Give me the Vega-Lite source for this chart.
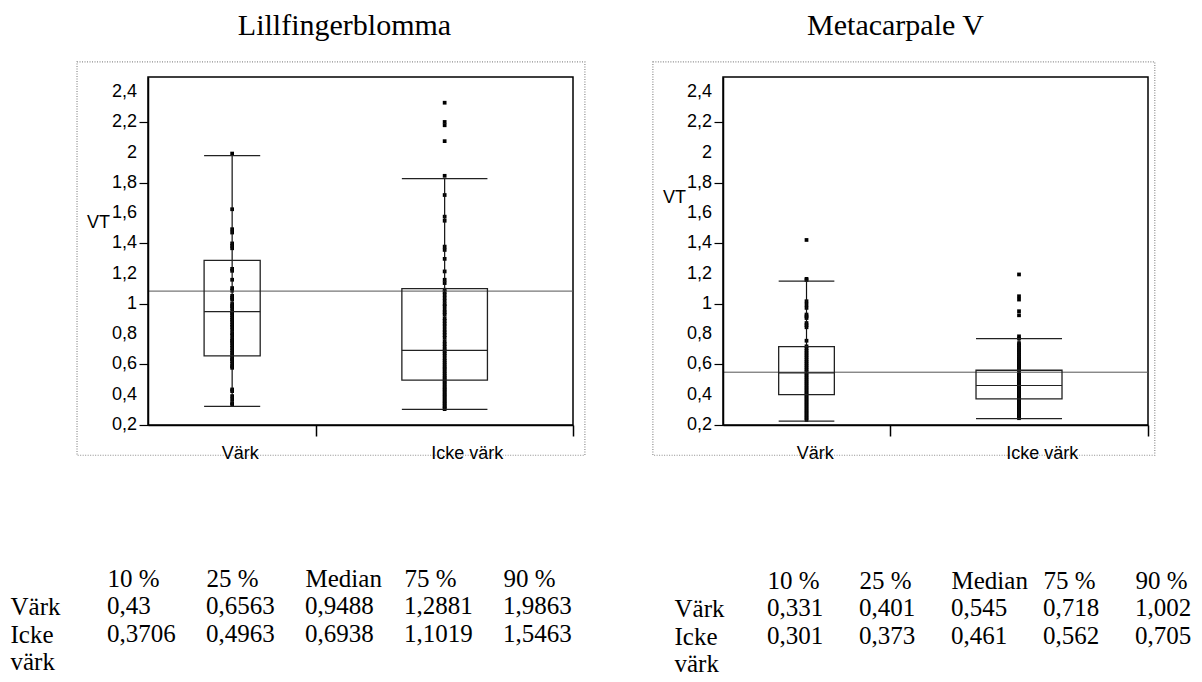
{
  "$schema": "https://vega.github.io/schema/vega-lite/v6.json",
  "background": "white",
  "padding": {"left": 10, "top": 10, "right": 0, "bottom": 0},
  "config": {
    "view": {"stroke": null},
    "font": "Liberation Sans",
    "axis": {"labelOverlap": false, "grid": false},
    "locale": {"number": {"decimal": ",", "thousands": "\u00a0", "grouping": [3], "currency": ["", "\u00a0kr"]}}
  },
  "datasets": {
    "y_etiketter": [
      {"vt": 0.2}, {"vt": 0.4}, {"vt": 0.6}, {"vt": 0.8}, {"vt": 1.0}, {"vt": 1.2},
      {"vt": 1.4}, {"vt": 1.6}, {"vt": 1.8}, {"vt": 2.0}, {"vt": 2.2}, {"vt": 2.4}
    ],
    "lf_grupper": [
      {"grupp": "Värk", "andel_fran": 0, "andel_till": 0.396, "lo": 0.323, "q1": 0.6563, "med": 0.9488, "q3": 1.2881, "hi": 1.981},
      {"grupp": "Icke värk", "andel_fran": 0.396, "andel_till": 1, "lo": 0.303, "q1": 0.4963, "med": 0.6938, "q3": 1.1019, "hi": 1.829}
    ],
    "mc_grupper": [
      {"grupp": "Värk", "andel_fran": 0, "andel_till": 0.393, "lo": 0.226, "q1": 0.401, "med": 0.545, "q3": 0.718, "hi": 1.151},
      {"grupp": "Icke värk", "andel_fran": 0.393, "andel_till": 1, "lo": 0.242, "q1": 0.373, "med": 0.461, "q3": 0.562, "hi": 0.771}
    ],
    "lf_ref": [{"vt": 1.085}],
    "mc_ref": [{"vt": 0.549}],
    "lf_punkter": [
      {"grupp": "Värk", "vt": 1.994}, {"grupp": "Värk", "vt": 1.626}, {"grupp": "Värk", "vt": 1.494}, {"grupp": "Värk", "vt": 1.472},
      {"grupp": "Värk", "vt": 1.4}, {"grupp": "Värk", "vt": 1.384}, {"grupp": "Värk", "vt": 1.368}, {"grupp": "Värk", "vt": 1.232},
      {"grupp": "Värk", "vt": 1.219}, {"grupp": "Värk", "vt": 1.16}, {"grupp": "Värk", "vt": 1.105}, {"grupp": "Värk", "vt": 1.088},
      {"grupp": "Värk", "vt": 1.054}, {"grupp": "Värk", "vt": 1.041}, {"grupp": "Värk", "vt": 1.028}, {"grupp": "Värk", "vt": 1.0},
      {"grupp": "Värk", "vt": 0.986}, {"grupp": "Värk", "vt": 0.973}, {"grupp": "Värk", "vt": 0.952}, {"grupp": "Värk", "vt": 0.94},
      {"grupp": "Värk", "vt": 0.926}, {"grupp": "Värk", "vt": 0.91}, {"grupp": "Värk", "vt": 0.896}, {"grupp": "Värk", "vt": 0.881},
      {"grupp": "Värk", "vt": 0.863}, {"grupp": "Värk", "vt": 0.849}, {"grupp": "Värk", "vt": 0.83}, {"grupp": "Värk", "vt": 0.808},
      {"grupp": "Värk", "vt": 0.792}, {"grupp": "Värk", "vt": 0.769}, {"grupp": "Värk", "vt": 0.756}, {"grupp": "Värk", "vt": 0.743},
      {"grupp": "Värk", "vt": 0.726}, {"grupp": "Värk", "vt": 0.71}, {"grupp": "Värk", "vt": 0.692}, {"grupp": "Värk", "vt": 0.677},
      {"grupp": "Värk", "vt": 0.661}, {"grupp": "Värk", "vt": 0.644}, {"grupp": "Värk", "vt": 0.634}, {"grupp": "Värk", "vt": 0.622},
      {"grupp": "Värk", "vt": 0.604}, {"grupp": "Värk", "vt": 0.589}, {"grupp": "Värk", "vt": 0.578}, {"grupp": "Värk", "vt": 0.435},
      {"grupp": "Värk", "vt": 0.424}, {"grupp": "Värk", "vt": 0.391}, {"grupp": "Värk", "vt": 0.369}, {"grupp": "Värk", "vt": 0.345},
      {"grupp": "Värk", "vt": 0.336},
      {"grupp": "Icke värk", "vt": 2.33}, {"grupp": "Icke värk", "vt": 2.203}, {"grupp": "Icke värk", "vt": 2.181}, {"grupp": "Icke värk", "vt": 2.076},
      {"grupp": "Icke värk", "vt": 1.847}, {"grupp": "Icke värk", "vt": 1.72}, {"grupp": "Icke värk", "vt": 1.577}, {"grupp": "Icke värk", "vt": 1.55},
      {"grupp": "Icke värk", "vt": 1.379}, {"grupp": "Icke värk", "vt": 1.357}, {"grupp": "Icke värk", "vt": 1.298}, {"grupp": "Icke värk", "vt": 1.215},
      {"grupp": "Icke värk", "vt": 1.16}, {"grupp": "Icke värk", "vt": 1.138}, {"grupp": "Icke värk", "vt": 1.094}, {"grupp": "Icke värk", "vt": 1.08},
      {"grupp": "Icke värk", "vt": 1.062}, {"grupp": "Icke värk", "vt": 1.041}, {"grupp": "Icke värk", "vt": 1.02}, {"grupp": "Icke värk", "vt": 0.998},
      {"grupp": "Icke värk", "vt": 0.985}, {"grupp": "Icke värk", "vt": 0.962}, {"grupp": "Icke värk", "vt": 0.945}, {"grupp": "Icke värk", "vt": 0.93},
      {"grupp": "Icke värk", "vt": 0.905}, {"grupp": "Icke värk", "vt": 0.888}, {"grupp": "Icke värk", "vt": 0.87}, {"grupp": "Icke värk", "vt": 0.852},
      {"grupp": "Icke värk", "vt": 0.83}, {"grupp": "Icke värk", "vt": 0.812}, {"grupp": "Icke värk", "vt": 0.794}, {"grupp": "Icke värk", "vt": 0.776},
      {"grupp": "Icke värk", "vt": 0.752}, {"grupp": "Icke värk", "vt": 0.735}, {"grupp": "Icke värk", "vt": 0.718}, {"grupp": "Icke värk", "vt": 0.7},
      {"grupp": "Icke värk", "vt": 0.688}, {"grupp": "Icke värk", "vt": 0.673}, {"grupp": "Icke värk", "vt": 0.659}, {"grupp": "Icke värk", "vt": 0.641},
      {"grupp": "Icke värk", "vt": 0.626}, {"grupp": "Icke värk", "vt": 0.612}, {"grupp": "Icke värk", "vt": 0.598}, {"grupp": "Icke värk", "vt": 0.583},
      {"grupp": "Icke värk", "vt": 0.571}, {"grupp": "Icke värk", "vt": 0.556}, {"grupp": "Icke värk", "vt": 0.542}, {"grupp": "Icke värk", "vt": 0.528},
      {"grupp": "Icke värk", "vt": 0.515}, {"grupp": "Icke värk", "vt": 0.503}, {"grupp": "Icke värk", "vt": 0.49}, {"grupp": "Icke värk", "vt": 0.478},
      {"grupp": "Icke värk", "vt": 0.466}, {"grupp": "Icke värk", "vt": 0.452}, {"grupp": "Icke värk", "vt": 0.441}, {"grupp": "Icke värk", "vt": 0.43},
      {"grupp": "Icke värk", "vt": 0.418}, {"grupp": "Icke värk", "vt": 0.405}, {"grupp": "Icke värk", "vt": 0.394}, {"grupp": "Icke värk", "vt": 0.382},
      {"grupp": "Icke värk", "vt": 0.37}, {"grupp": "Icke värk", "vt": 0.358}, {"grupp": "Icke värk", "vt": 0.347}, {"grupp": "Icke värk", "vt": 0.336},
      {"grupp": "Icke värk", "vt": 0.325}, {"grupp": "Icke värk", "vt": 0.314}, {"grupp": "Icke värk", "vt": 0.305}
    ],
    "mc_punkter": [
      {"grupp": "Värk", "vt": 1.423}, {"grupp": "Värk", "vt": 1.166}, {"grupp": "Värk", "vt": 1.158}, {"grupp": "Värk", "vt": 1.018},
      {"grupp": "Värk", "vt": 0.996}, {"grupp": "Värk", "vt": 0.974}, {"grupp": "Värk", "vt": 0.93}, {"grupp": "Värk", "vt": 0.918},
      {"grupp": "Värk", "vt": 0.907}, {"grupp": "Värk", "vt": 0.874}, {"grupp": "Värk", "vt": 0.86}, {"grupp": "Värk", "vt": 0.846},
      {"grupp": "Värk", "vt": 0.757}, {"grupp": "Värk", "vt": 0.72}, {"grupp": "Värk", "vt": 0.705}, {"grupp": "Värk", "vt": 0.69},
      {"grupp": "Värk", "vt": 0.676}, {"grupp": "Värk", "vt": 0.662}, {"grupp": "Värk", "vt": 0.648}, {"grupp": "Värk", "vt": 0.634},
      {"grupp": "Värk", "vt": 0.62}, {"grupp": "Värk", "vt": 0.607}, {"grupp": "Värk", "vt": 0.593}, {"grupp": "Värk", "vt": 0.58},
      {"grupp": "Värk", "vt": 0.566}, {"grupp": "Värk", "vt": 0.553}, {"grupp": "Värk", "vt": 0.54}, {"grupp": "Värk", "vt": 0.527},
      {"grupp": "Värk", "vt": 0.514}, {"grupp": "Värk", "vt": 0.501}, {"grupp": "Värk", "vt": 0.488}, {"grupp": "Värk", "vt": 0.476},
      {"grupp": "Värk", "vt": 0.463}, {"grupp": "Värk", "vt": 0.45}, {"grupp": "Värk", "vt": 0.438}, {"grupp": "Värk", "vt": 0.425},
      {"grupp": "Värk", "vt": 0.412}, {"grupp": "Värk", "vt": 0.4}, {"grupp": "Värk", "vt": 0.388}, {"grupp": "Värk", "vt": 0.376},
      {"grupp": "Värk", "vt": 0.364}, {"grupp": "Värk", "vt": 0.352}, {"grupp": "Värk", "vt": 0.34}, {"grupp": "Värk", "vt": 0.328},
      {"grupp": "Värk", "vt": 0.316}, {"grupp": "Värk", "vt": 0.304}, {"grupp": "Värk", "vt": 0.292}, {"grupp": "Värk", "vt": 0.28},
      {"grupp": "Värk", "vt": 0.268}, {"grupp": "Värk", "vt": 0.256}, {"grupp": "Värk", "vt": 0.245}, {"grupp": "Värk", "vt": 0.233},
      {"grupp": "Icke värk", "vt": 1.195}, {"grupp": "Icke värk", "vt": 1.051}, {"grupp": "Icke värk", "vt": 1.029}, {"grupp": "Icke värk", "vt": 0.952},
      {"grupp": "Icke värk", "vt": 0.925}, {"grupp": "Icke värk", "vt": 0.786}, {"grupp": "Icke värk", "vt": 0.771}, {"grupp": "Icke värk", "vt": 0.741},
      {"grupp": "Icke värk", "vt": 0.728}, {"grupp": "Icke värk", "vt": 0.715}, {"grupp": "Icke värk", "vt": 0.702}, {"grupp": "Icke värk", "vt": 0.69},
      {"grupp": "Icke värk", "vt": 0.678}, {"grupp": "Icke värk", "vt": 0.666}, {"grupp": "Icke värk", "vt": 0.654}, {"grupp": "Icke värk", "vt": 0.642},
      {"grupp": "Icke värk", "vt": 0.63}, {"grupp": "Icke värk", "vt": 0.618}, {"grupp": "Icke värk", "vt": 0.607}, {"grupp": "Icke värk", "vt": 0.596},
      {"grupp": "Icke värk", "vt": 0.585}, {"grupp": "Icke värk", "vt": 0.574}, {"grupp": "Icke värk", "vt": 0.563}, {"grupp": "Icke värk", "vt": 0.552},
      {"grupp": "Icke värk", "vt": 0.542}, {"grupp": "Icke värk", "vt": 0.532}, {"grupp": "Icke värk", "vt": 0.522}, {"grupp": "Icke värk", "vt": 0.512},
      {"grupp": "Icke värk", "vt": 0.502}, {"grupp": "Icke värk", "vt": 0.492}, {"grupp": "Icke värk", "vt": 0.482}, {"grupp": "Icke värk", "vt": 0.472},
      {"grupp": "Icke värk", "vt": 0.462}, {"grupp": "Icke värk", "vt": 0.452}, {"grupp": "Icke värk", "vt": 0.443}, {"grupp": "Icke värk", "vt": 0.434},
      {"grupp": "Icke värk", "vt": 0.425}, {"grupp": "Icke värk", "vt": 0.416}, {"grupp": "Icke värk", "vt": 0.407}, {"grupp": "Icke värk", "vt": 0.398},
      {"grupp": "Icke värk", "vt": 0.389}, {"grupp": "Icke värk", "vt": 0.38}, {"grupp": "Icke värk", "vt": 0.371}, {"grupp": "Icke värk", "vt": 0.362},
      {"grupp": "Icke värk", "vt": 0.353}, {"grupp": "Icke värk", "vt": 0.344}, {"grupp": "Icke värk", "vt": 0.335}, {"grupp": "Icke värk", "vt": 0.326},
      {"grupp": "Icke värk", "vt": 0.317}, {"grupp": "Icke värk", "vt": 0.308}, {"grupp": "Icke värk", "vt": 0.299}, {"grupp": "Icke värk", "vt": 0.29},
      {"grupp": "Icke värk", "vt": 0.281}, {"grupp": "Icke värk", "vt": 0.272}, {"grupp": "Icke värk", "vt": 0.263}, {"grupp": "Icke värk", "vt": 0.254},
      {"grupp": "Icke värk", "vt": 0.245}
    ],
    "lf_tabell": [
      {"grupp": "Värk", "kvantil": "10 %", "varde": 0.43},
      {"grupp": "Värk", "kvantil": "25 %", "varde": 0.6563},
      {"grupp": "Värk", "kvantil": "Median", "varde": 0.9488},
      {"grupp": "Värk", "kvantil": "75 %", "varde": 1.2881},
      {"grupp": "Värk", "kvantil": "90 %", "varde": 1.9863},
      {"grupp": "Icke värk", "kvantil": "10 %", "varde": 0.3706},
      {"grupp": "Icke värk", "kvantil": "25 %", "varde": 0.4963},
      {"grupp": "Icke värk", "kvantil": "Median", "varde": 0.6938},
      {"grupp": "Icke värk", "kvantil": "75 %", "varde": 1.1019},
      {"grupp": "Icke värk", "kvantil": "90 %", "varde": 1.5463}
    ],
    "mc_tabell": [
      {"grupp": "Värk", "kvantil": "10 %", "varde": 0.331},
      {"grupp": "Värk", "kvantil": "25 %", "varde": 0.401},
      {"grupp": "Värk", "kvantil": "Median", "varde": 0.545},
      {"grupp": "Värk", "kvantil": "75 %", "varde": 0.718},
      {"grupp": "Värk", "kvantil": "90 %", "varde": 1.002},
      {"grupp": "Icke värk", "kvantil": "10 %", "varde": 0.301},
      {"grupp": "Icke värk", "kvantil": "25 %", "varde": 0.373},
      {"grupp": "Icke värk", "kvantil": "Median", "varde": 0.461},
      {"grupp": "Icke värk", "kvantil": "75 %", "varde": 0.562},
      {"grupp": "Icke värk", "kvantil": "90 %", "varde": 0.705}
    ]
  },
  "hconcat": [
    {
      "vconcat": [
        {
          "width": 425,
          "height": 348,
          "view": {"stroke": "#000", "strokeWidth": 1.5},
          "title": {"text": "Lillfingerblomma", "font": "Liberation Serif", "fontSize": 30, "fontWeight": "normal", "color": "#000", "anchor": "middle", "frame": "group", "dx": -16, "offset": -4, "baseline": "alphabetic"},
          "layer": [
            {
              "data": {"name": "lf_punkter"},
              "transform": [
                {"lookup": "grupp", "from": {"data": {"name": "lf_grupper"}, "key": "grupp", "fields": ["andel_fran", "andel_till"]}},
                {"calculate": "(datum.andel_fran + datum.andel_till) / 2", "as": "mitt"}
              ],
              "mark": {"type": "point", "shape": "square", "filled": true, "size": 14, "color": "#000", "opacity": 1},
              "encoding": {
                "x": {"field": "mitt", "type": "quantitative", "scale": {"domain": [0, 1], "nice": false, "zero": false},
                  "axis": {"orient": "bottom", "zindex": 1, "values": [0.216, 0.396, 0.75, 1], "labelExpr": "datum.value == 0.216 ? 'Värk' : datum.value == 0.75 ? 'Icke värk' : ''",
                    "tickOpacity": {"condition": {"test": "datum.value == 0.216 || datum.value == 0.75", "value": 0}, "value": 1},
                    "tickSize": 11, "tickColor": "#000", "tickWidth": 1.5, "domainColor": "#000", "domainWidth": 1.5,
                    "labelFont": "Liberation Sans", "labelFontSize": 18, "labelColor": "#000", "labelPadding": 8, "labelFlush": false, "labelOverlap": false, "labelBound": false,
                    "grid": false, "title": null}},
                "y": {"field": "vt", "type": "quantitative", "scale": {"domain": [0.2, 2.5], "nice": false, "zero": false},
                  "axis": {"zindex": 1, "values": [0.2, 0.3, 0.4, 0.5, 0.6, 0.7, 0.8, 0.9, 1, 1.1, 1.2, 1.3, 1.4, 1.5, 1.6, 1.7, 1.8, 1.9, 2, 2.1, 2.2, 2.3, 2.4],
                    "labels": false,
                    "tickSize": {"condition": {"test": "round(datum.value*10) % 2 == 0", "value": 9}, "value": 5},
                    "tickColor": "#000", "tickWidth": 1.2, "domainColor": "#000", "domainWidth": 1.5,
                    "grid": false, "title": "VT", "titleAngle": 0, "titleX": -50, "titleY": 145, "titleAlign": "center", "titleBaseline": "middle",
                    "titleFont": "Liberation Sans", "titleFontSize": 18, "titleFontWeight": "normal", "titleColor": "#000"}}
              }
            },
            {
              "data": {"values": [{}]},
              "mark": {"type": "rect", "filled": false, "stroke": "#8c8c8c", "strokeWidth": 1.2, "strokeDash": [1, 1.5]},
              "encoding": {
                "x": {"datum": -0.167, "type": "quantitative"},
                "x2": {"datum": 1.028},
                "y": {"datum": 2.6, "type": "quantitative"},
                "y2": {"datum": 0.0}
              }
            },
            {
              "data": {"name": "y_etiketter"},
              "mark": {"type": "text", "align": "right", "baseline": "middle", "dx": -11, "font": "Liberation Sans", "fontSize": 18, "color": "#000"},
              "encoding": {
                "x": {"datum": 0, "type": "quantitative"},
                "y": {"field": "vt", "type": "quantitative"},
                "text": {"field": "vt", "type": "quantitative", "format": ".1~f"}
              }
            },
            {
              "data": {"name": "lf_ref"},
              "mark": {"type": "rule", "color": "#555", "strokeWidth": 1},
              "encoding": {"y": {"field": "vt", "type": "quantitative"}}
            },
            {
              "data": {"name": "lf_grupper"},
              "transform": [
                {"calculate": "(datum.andel_fran + datum.andel_till) / 2", "as": "mitt"},
                {"calculate": "datum.andel_fran + (datum.andel_till - datum.andel_fran) / 3", "as": "b0"},
                {"calculate": "datum.andel_fran + 2 * (datum.andel_till - datum.andel_fran) / 3", "as": "b1"}
              ],
              "layer": [
                {
                  "mark": {"type": "rule", "color": "#111", "strokeWidth": 1.2},
                  "encoding": {
                    "x": {"field": "mitt", "type": "quantitative"},
                    "y": {"field": "lo", "type": "quantitative"},
                    "y2": {"field": "hi"}
                  }
                },
                {
                  "mark": {"type": "rect", "filled": false, "stroke": "#222", "strokeWidth": 1.3},
                  "encoding": {
                    "x": {"field": "b0", "type": "quantitative"},
                    "x2": {"field": "b1"},
                    "y": {"field": "q1", "type": "quantitative"},
                    "y2": {"field": "q3"}
                  }
                },
                {
                  "mark": {"type": "rule", "color": "#222", "strokeWidth": 1.2},
                  "encoding": {
                    "x": {"field": "b0", "type": "quantitative"},
                    "x2": {"field": "b1"},
                    "y": {"field": "med", "type": "quantitative"}
                  }
                },
                {
                  "mark": {"type": "rule", "color": "#222", "strokeWidth": 1.3},
                  "encoding": {
                    "x": {"field": "b0", "type": "quantitative"},
                    "x2": {"field": "b1"},
                    "y": {"field": "lo", "type": "quantitative"}
                  }
                },
                {
                  "mark": {"type": "rule", "color": "#222", "strokeWidth": 1.3},
                  "encoding": {
                    "x": {"field": "b0", "type": "quantitative"},
                    "x2": {"field": "b1"},
                    "y": {"field": "hi", "type": "quantitative"}
                  }
                }
              ]
            }
          ]
        },
        {
          "width": 507,
          "height": 28,
          "data": {"name": "lf_tabell"},
          "mark": {"type": "text", "align": "left", "baseline": "alphabetic", "font": "Liberation Serif", "fontSize": 25, "color": "#000"},
          "encoding": {
            "x": {"field": "kvantil", "type": "ordinal", "sort": ["10 %", "25 %", "Median", "75 %", "90 %"], "scale": {"type": "point", "padding": 0.56, "align": 0},
              "axis": {"orient": "top", "title": null, "domain": false, "ticks": false, "labelAngle": 0, "labelAlign": "left", "labelBaseline": "alphabetic", "labelPadding": 28,
                "labelFont": "Liberation Serif", "labelFontSize": 25, "labelColor": "#000", "labelOverlap": false, "labelBound": false, "labelFlush": false}},
            "y": {"field": "grupp", "type": "nominal", "sort": ["Värk", "Icke värk"], "scale": {"type": "point", "padding": 0},
              "axis": {"title": null, "domain": false, "ticks": false, "labelAlign": "left", "labelBaseline": "alphabetic", "labelPadding": 97,
                "labelFont": "Liberation Serif", "labelFontSize": 25, "labelColor": "#000", "labelLineHeight": 27, "labelOverlap": false, "labelBound": false, "labelFlush": false,
                "labelExpr": "datum.value == 'Icke värk' ? ['Icke', 'värk'] : datum.value"}},
            "text": {"field": "varde", "type": "quantitative", "format": ".4~f"}
          }
        }
      ],
      "bounds": "flush",
      "center": true,
      "spacing": 189
    },
    {
      "vconcat": [
        {
          "width": 425,
          "height": 348,
          "view": {"stroke": "#000", "strokeWidth": 1.5},
          "title": {"text": "Metacarpale V", "font": "Liberation Serif", "fontSize": 30, "fontWeight": "normal", "color": "#000", "anchor": "middle", "frame": "group", "dx": -40, "offset": -4, "baseline": "alphabetic"},
          "layer": [
            {
              "data": {"name": "mc_punkter"},
              "transform": [
                {"lookup": "grupp", "from": {"data": {"name": "mc_grupper"}, "key": "grupp", "fields": ["andel_fran", "andel_till"]}},
                {"calculate": "(datum.andel_fran + datum.andel_till) / 2", "as": "mitt"}
              ],
              "mark": {"type": "point", "shape": "square", "filled": true, "size": 14, "color": "#000", "opacity": 1},
              "encoding": {
                "x": {"field": "mitt", "type": "quantitative", "scale": {"domain": [0, 1], "nice": false, "zero": false},
                  "axis": {"orient": "bottom", "zindex": 1, "values": [0.216, 0.393, 0.75, 1], "labelExpr": "datum.value == 0.216 ? 'Värk' : datum.value == 0.75 ? 'Icke värk' : ''",
                    "tickOpacity": {"condition": {"test": "datum.value == 0.216 || datum.value == 0.75", "value": 0}, "value": 1},
                    "tickSize": 11, "tickColor": "#000", "tickWidth": 1.5, "domainColor": "#000", "domainWidth": 1.5,
                    "labelFont": "Liberation Sans", "labelFontSize": 18, "labelColor": "#000", "labelPadding": 8, "labelFlush": false, "labelOverlap": false, "labelBound": false,
                    "grid": false, "title": null}},
                "y": {"field": "vt", "type": "quantitative", "scale": {"domain": [0.2, 2.5], "nice": false, "zero": false},
                  "axis": {"zindex": 1, "values": [0.2, 0.3, 0.4, 0.5, 0.6, 0.7, 0.8, 0.9, 1, 1.1, 1.2, 1.3, 1.4, 1.5, 1.6, 1.7, 1.8, 1.9, 2, 2.1, 2.2, 2.3, 2.4],
                    "labels": false,
                    "tickSize": {"condition": {"test": "round(datum.value*10) % 2 == 0", "value": 9}, "value": 5},
                    "tickColor": "#000", "tickWidth": 1.2, "domainColor": "#000", "domainWidth": 1.5,
                    "grid": false, "title": "VT", "titleAngle": 0, "titleX": -49, "titleY": 120, "titleAlign": "center", "titleBaseline": "middle",
                    "titleFont": "Liberation Sans", "titleFontSize": 18, "titleFontWeight": "normal", "titleColor": "#000"}}
              }
            },
            {
              "data": {"values": [{}]},
              "mark": {"type": "rect", "filled": false, "stroke": "#8c8c8c", "strokeWidth": 1.2, "strokeDash": [1, 1.5]},
              "encoding": {
                "x": {"datum": -0.165, "type": "quantitative"},
                "x2": {"datum": 1.016},
                "y": {"datum": 2.6, "type": "quantitative"},
                "y2": {"datum": 0.0}
              }
            },
            {
              "data": {"name": "y_etiketter"},
              "mark": {"type": "text", "align": "right", "baseline": "middle", "dx": -11, "font": "Liberation Sans", "fontSize": 18, "color": "#000"},
              "encoding": {
                "x": {"datum": 0, "type": "quantitative"},
                "y": {"field": "vt", "type": "quantitative"},
                "text": {"field": "vt", "type": "quantitative", "format": ".1~f"}
              }
            },
            {
              "data": {"name": "mc_ref"},
              "mark": {"type": "rule", "color": "#555", "strokeWidth": 1},
              "encoding": {"y": {"field": "vt", "type": "quantitative"}}
            },
            {
              "data": {"name": "mc_grupper"},
              "transform": [
                {"calculate": "(datum.andel_fran + datum.andel_till) / 2", "as": "mitt"},
                {"calculate": "datum.andel_fran + (datum.andel_till - datum.andel_fran) / 3", "as": "b0"},
                {"calculate": "datum.andel_fran + 2 * (datum.andel_till - datum.andel_fran) / 3", "as": "b1"}
              ],
              "layer": [
                {
                  "mark": {"type": "rule", "color": "#111", "strokeWidth": 1.2},
                  "encoding": {
                    "x": {"field": "mitt", "type": "quantitative"},
                    "y": {"field": "lo", "type": "quantitative"},
                    "y2": {"field": "hi"}
                  }
                },
                {
                  "mark": {"type": "rect", "filled": false, "stroke": "#222", "strokeWidth": 1.3},
                  "encoding": {
                    "x": {"field": "b0", "type": "quantitative"},
                    "x2": {"field": "b1"},
                    "y": {"field": "q1", "type": "quantitative"},
                    "y2": {"field": "q3"}
                  }
                },
                {
                  "mark": {"type": "rule", "color": "#222", "strokeWidth": 1.2},
                  "encoding": {
                    "x": {"field": "b0", "type": "quantitative"},
                    "x2": {"field": "b1"},
                    "y": {"field": "med", "type": "quantitative"}
                  }
                },
                {
                  "mark": {"type": "rule", "color": "#222", "strokeWidth": 1.3},
                  "encoding": {
                    "x": {"field": "b0", "type": "quantitative"},
                    "x2": {"field": "b1"},
                    "y": {"field": "lo", "type": "quantitative"}
                  }
                },
                {
                  "mark": {"type": "rule", "color": "#222", "strokeWidth": 1.3},
                  "encoding": {
                    "x": {"field": "b0", "type": "quantitative"},
                    "x2": {"field": "b1"},
                    "y": {"field": "hi", "type": "quantitative"}
                  }
                }
              ]
            }
          ]
        },
        {
          "width": 425,
          "height": 28,
          "data": {"name": "mc_tabell"},
          "mark": {"type": "text", "align": "left", "baseline": "alphabetic", "font": "Liberation Serif", "fontSize": 25, "color": "#000"},
          "encoding": {
            "x": {"field": "kvantil", "type": "ordinal", "sort": ["10 %", "25 %", "Median", "75 %", "90 %"], "scale": {"type": "point", "padding": 0.31, "align": 0.772},
              "axis": {"orient": "top", "title": null, "domain": false, "ticks": false, "labelAngle": 0, "labelAlign": "left", "labelBaseline": "alphabetic", "labelPadding": 28,
                "labelFont": "Liberation Serif", "labelFontSize": 25, "labelColor": "#000", "labelOverlap": false, "labelBound": false, "labelFlush": false}},
            "y": {"field": "grupp", "type": "nominal", "sort": ["Värk", "Icke värk"], "scale": {"type": "point", "padding": 0},
              "axis": {"title": null, "domain": false, "ticks": false, "labelAlign": "left", "labelBaseline": "alphabetic", "labelPadding": 49,
                "labelFont": "Liberation Serif", "labelFontSize": 25, "labelColor": "#000", "labelLineHeight": 27, "labelOverlap": false, "labelBound": false, "labelFlush": false,
                "labelExpr": "datum.value == 'Icke värk' ? ['Icke', 'värk'] : datum.value"}},
            "text": {"field": "varde", "type": "quantitative", "format": ".4~f"}
          }
        }
      ],
      "bounds": "flush",
      "spacing": 191
    }
  ],
  "spacing": 37
}
